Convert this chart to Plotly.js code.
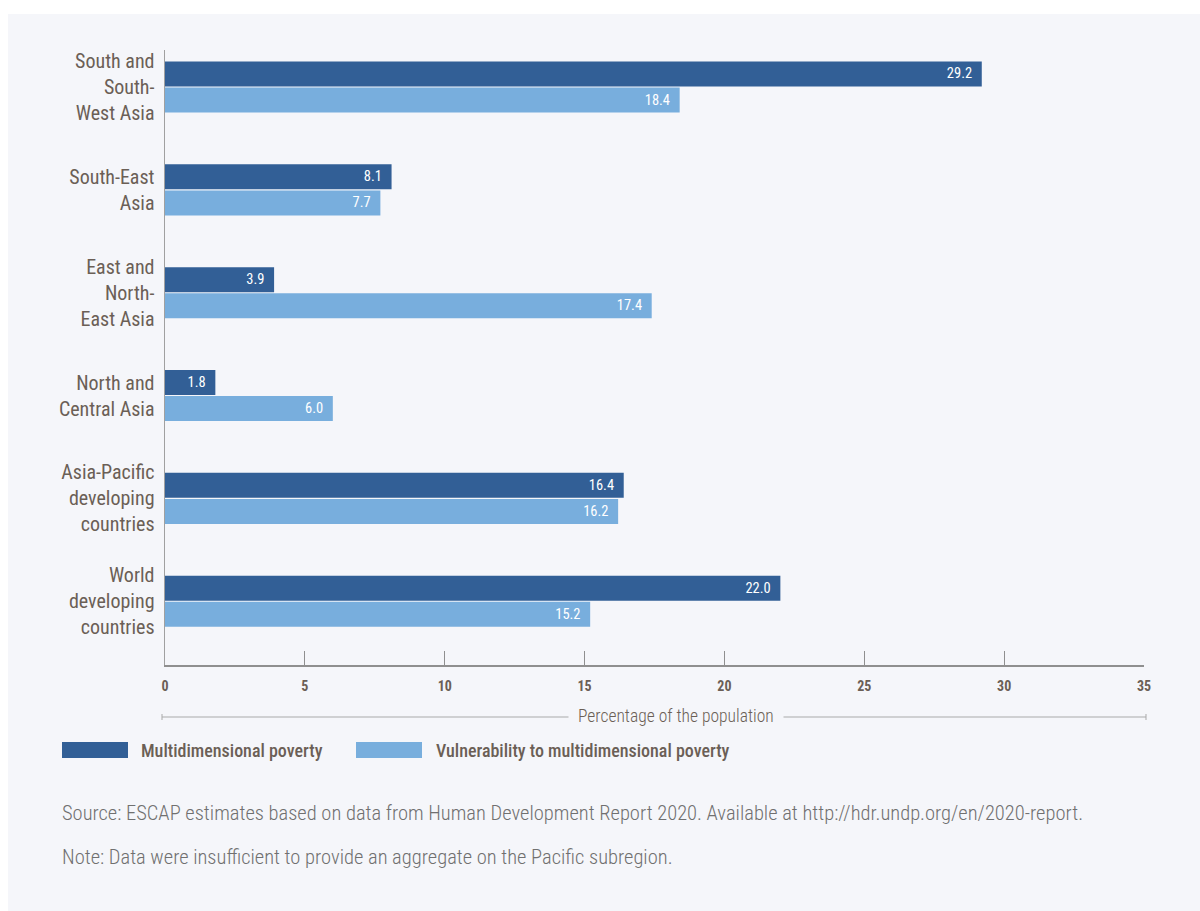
<!DOCTYPE html>
<html>
<head>
<meta charset="utf-8">
<script src="https://cdn.plot.ly/plotly-3.0.1.min.js"></script>
<style>html,body{margin:0;padding:0;background:#fff;}#chart{width:1200px;height:911px;}</style>
</head>
<body>
<div id="chart"></div>
<script>
const categories = [
  "South and<br>South-<br>West Asia",
  "South-East<br>Asia",
  "East and<br>North-<br>East Asia",
  "North and<br>Central Asia",
  "Asia-Pacific<br>developing<br>countries",
  "World<br>developing<br>countries"
];
const multidimensionalPoverty = [29.2, 8.1, 3.9, 1.8, 16.4, 22.0];
const vulnerability = [18.4, 7.7, 17.4, 6.0, 16.2, 15.2];
const seriesNames = ["Multidimensional poverty", "Vulnerability to multidimensional poverty"];
const xTicks = [0, 5, 10, 15, 20, 25, 30, 35];

const FONT = "Roboto Condensed, Roboto, sans-serif";
const PANEL = "#f5f6fa";
const TXT = "#6b5f56";
const DARK = "#325f96";
const LIGHT = "#78aedd";
const NB = "\u00a0\u00a0";

// pixel -> paper helpers (plot area: x 165..1144, y 50..665)
const px = p => (p - 165) / 979;
const py = p => (665 - p) / 615;

const traces = [
  {
    type: "bar", orientation: "h", name: seriesNames[0],
    y: categories, x: multidimensionalPoverty,
    marker: {color: DARK},
    text: multidimensionalPoverty.map(v => v.toFixed(1) + NB),
    textposition: "inside", insidetextanchor: "end", constraintext: "none",
    insidetextfont: {family: FONT, size: 14.5, color: "#ffffff"},
    hoverinfo: "x+name"
  },
  {
    type: "bar", orientation: "h", name: seriesNames[1],
    y: categories, x: vulnerability,
    marker: {color: LIGHT},
    text: vulnerability.map(v => v.toFixed(1) + NB),
    textposition: "inside", insidetextanchor: "end", constraintext: "none",
    insidetextfont: {family: FONT, size: 14.5, color: "#ffffff"},
    hoverinfo: "x+name"
  }
];

const shapes = [
  {type: "rect", xref: "paper", yref: "paper", x0: px(0), x1: px(1200), y0: py(0), y1: py(14), fillcolor: "#ffffff", line: {width: 0}, layer: "below"},
  {type: "rect", xref: "paper", yref: "paper", x0: px(0), x1: px(8), y0: py(0), y1: py(911), fillcolor: "#ffffff", line: {width: 0}, layer: "below"},
  {type: "line", xref: "paper", yref: "paper", x0: px(162), x1: px(1146), y0: py(717), y1: py(717), line: {color: "#a9a9a9", width: 1.2}},
  {type: "line", xref: "paper", yref: "paper", x0: px(162), x1: px(162), y0: py(714), y1: py(720), line: {color: "#a9a9a9", width: 1}},
  {type: "line", xref: "paper", yref: "paper", x0: px(1146), x1: px(1146), y0: py(714), y1: py(720), line: {color: "#a9a9a9", width: 1}},
  {type: "rect", xref: "paper", yref: "paper", x0: px(62), x1: px(128), y0: py(758), y1: py(742), fillcolor: DARK, line: {width: 0}},
  {type: "rect", xref: "paper", yref: "paper", x0: px(356), x1: px(422), y0: py(758), y1: py(742), fillcolor: LIGHT, line: {width: 0}}
];

const annotations = [
  {xref: "paper", yref: "paper", x: px(676), y: py(716), text: "Percentage of the population", showarrow: false,
   xanchor: "center", yanchor: "middle", bgcolor: PANEL, borderpad: 9,
   font: {family: FONT, size: 17.5, color: TXT, weight: 300}},
  {xref: "paper", yref: "paper", x: px(139), y: py(750), text: seriesNames[0], showarrow: false,
   xanchor: "left", yanchor: "middle", font: {family: FONT, size: 18, color: TXT, weight: 500}},
  {xref: "paper", yref: "paper", x: px(434), y: py(750), text: seriesNames[1], showarrow: false,
   xanchor: "left", yanchor: "middle", font: {family: FONT, size: 18, color: TXT, weight: 500}},
  {xref: "paper", yref: "paper", x: px(60), y: py(813), text: "Source: ESCAP estimates based on data from Human Development Report 2020. Available at http://hdr.undp.org/en/2020-report.", showarrow: false,
   xanchor: "left", yanchor: "middle", font: {family: FONT, size: 20.5, color: "#707070", weight: 300}},
  {xref: "paper", yref: "paper", x: px(60), y: py(857), text: "Note: Data were insufficient to provide an aggregate on the Pacific subregion.", showarrow: false,
   xanchor: "left", yanchor: "middle", font: {family: FONT, size: 20.5, color: "#707070", weight: 300}}
];

const layout = {
  width: 1200, height: 911,
  margin: {l: 165, r: 56, t: 50, b: 246, pad: 0},
  paper_bgcolor: PANEL, plot_bgcolor: PANEL,
  barmode: "group", bargap: 0.493, bargroupgap: 0.04,
  showlegend: false,
  font: {family: FONT, color: TXT},
  xaxis: {
    range: [0, 35], tickvals: xTicks, ticktext: xTicks.map(String),
    ticks: "inside", ticklen: 14, tickcolor: "#8f8f8f", tickwidth: 1,
    showline: true, linecolor: "#8f8f8f", linewidth: 1.5,
    showgrid: false, zeroline: false, ticklabelstandoff: 8,
    tickfont: {family: FONT, size: 14, color: TXT, weight: "bold"},
    fixedrange: true
  },
  yaxis: {
    type: "category", categoryorder: "array", categoryarray: categories,
    range: [5.62, -0.36],
    showline: true, linecolor: "#a0a0a0", linewidth: 1.5,
    ticks: "", showgrid: false, zeroline: false, ticklabelstandoff: 5,
    tickfont: {family: FONT, size: 20, color: TXT},
    fixedrange: true
  },
  shapes: shapes,
  annotations: annotations
};

Plotly.newPlot("chart", traces, layout, {displayModeBar: false, staticPlot: true});
</script>
</body>
</html>
